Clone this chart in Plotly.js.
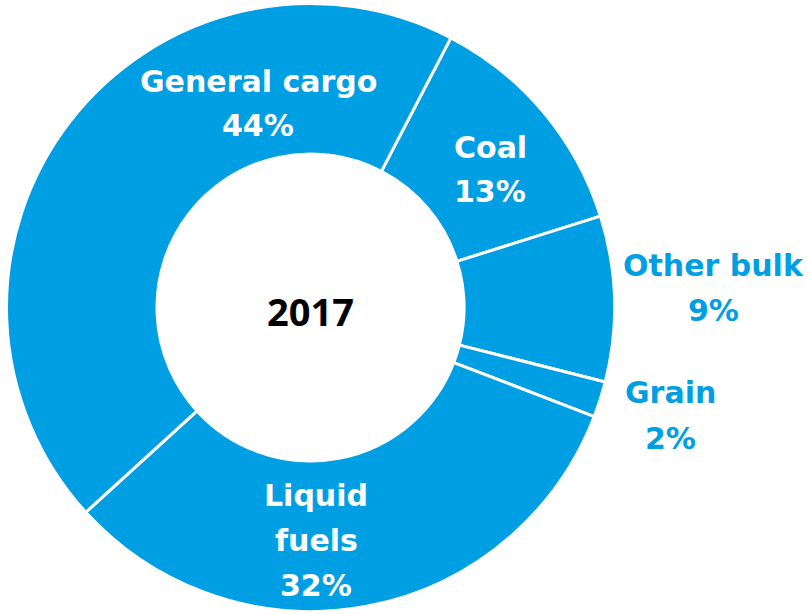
<!DOCTYPE html>
<html>
<head>
<meta charset="utf-8">
<script src="https://cdn.plot.ly/plotly-3.0.1.min.js"></script>
<style>html,body{margin:0;padding:0;background:#fff;}#chart{width:810px;height:614px;}</style>
</head>
<body>
<div id="chart"></div>
<script>
// Data (clockwise from the Coal slice); shares in percent
const categories = ['Coal', 'Other bulk', 'Grain', 'Liquid fuels', 'General cargo'];
const shares = [12.5, 8.8, 1.9, 32.4, 44.4];
const centerLabel = '2017';

// Label line splits and placement (pixel centers) — presentation only
const labelLines = {
  'Coal': ['Coal'],
  'Other bulk': ['Other bulk'],
  'Grain': ['Grain'],
  'Liquid fuels': ['Liquid', 'fuels'],
  'General cargo': ['General cargo']
};
const labelPos = {
  'Coal': {x: 490, y: 147, inside: true},
  'Other bulk': {x: 713, y: 265, inside: false},
  'Grain': {x: 670, y: 393, inside: false},
  'Liquid fuels': {x: 316, y: 495, inside: true},
  'General cargo': {x: 258, y: 81, inside: true}
};

const W = 810, H = 614;
const BLUE = '#009FE3';
const LABEL_FONT = 'DejaVu Sans, sans-serif';
const CENTER_FONT = 'Open Sans, sans-serif';
const LINE = 45;

const annotations = [];
categories.forEach((c, i) => {
  const p = labelPos[c];
  const lines = labelLines[c].concat([Math.round(shares[i]) + '%']);
  lines.forEach((t, k) => {
    annotations.push({
      x: p.x / W, y: 1 - (p.y + k * LINE) / H, xref: 'paper', yref: 'paper',
      xanchor: 'center', yanchor: 'middle', showarrow: false,
      text: '<b>' + t + '</b>',
      font: {family: LABEL_FONT, size: 30, color: p.inside ? '#ffffff' : BLUE}
    });
  });
});
annotations.push({
  x: 310.5 / W, y: 1 - 311 / H, xref: 'paper', yref: 'paper',
  xanchor: 'center', yanchor: 'middle', showarrow: false,
  text: '<b>' + centerLabel + '</b>',
  font: {family: CENTER_FONT, size: 38, color: '#000000'}
});

const trace = {
  type: 'pie',
  labels: categories,
  values: shares,
  sort: false,
  direction: 'clockwise',
  rotation: 27.5,
  hole: 0.505,
  textinfo: 'none',
  hoverinfo: 'label+percent',
  marker: {colors: categories.map(() => BLUE), line: {color: '#ffffff', width: 3}},
  domain: {x: [6.5 / W, 614.5 / W], y: [2.5 / H, 610.5 / H]},
  showlegend: false
};

Plotly.newPlot('chart', [trace], {
  width: W, height: H,
  margin: {l: 0, r: 0, t: 0, b: 0},
  paper_bgcolor: '#ffffff',
  showlegend: false,
  annotations: annotations
}, {staticPlot: true});
</script>
</body>
</html>
